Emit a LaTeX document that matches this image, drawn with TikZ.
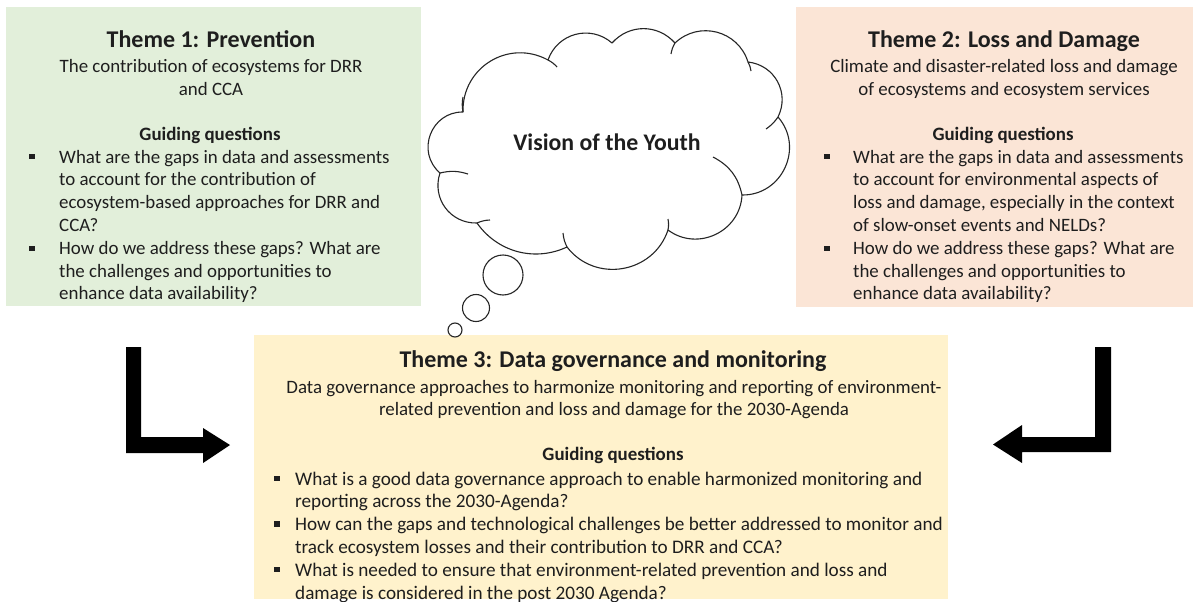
\documentclass[tikz,border=0pt]{standalone}
\usepackage{fontspec}
\setmainfont{Carlito}
\definecolor{boxgreen}{HTML}{E2EFDA}
\definecolor{boxpeach}{HTML}{FBE5D6}
\definecolor{boxyellow}{HTML}{FFF2CC}
\definecolor{inkdark}{HTML}{1E1E1E}
\begin{document}
\begin{tikzpicture}[x=1pt,y=-1pt,
  panel/.style={draw=none, rectangle, inner sep=0pt},
  titletext/.style={anchor=base, inner sep=0pt, text=inkdark, font=\fontsize{24}{28}\selectfont\bfseries},
  % multi-line texts are placed by the baseline of their last line
  subtext/.style={anchor=base, inner sep=0pt, text=inkdark, align=center, font=\fontsize{18.9}{22.8}\selectfont},
  headtext/.style={anchor=base, inner sep=0pt, text=inkdark, font=\fontsize{18.9}{22.8}\selectfont\bfseries},
  listtext/.style={anchor=base west, inner sep=0pt, text=inkdark, align=left, font=\fontsize{18.9}{22.8}\selectfont},
  bullet/.style={rectangle, fill=inkdark, inner sep=0pt, minimum size=5.4pt},
  cloudline/.style={draw=black!85, line width=1.1pt, line join=round},
  blockarrow/.style={fill=black}]
\useasboundingbox (0,0) rectangle (1197,602);
\fill[white] (0,0) rectangle (1197,602);

% theme panels
\node[panel, fill=boxgreen, minimum width=415pt, minimum height=299pt] (box1) at (213.5,156.5) {};
\node[panel, fill=boxpeach, minimum width=397pt, minimum height=300pt] (box2) at (994.5,157) {};
\node[panel, fill=boxyellow, minimum width=694pt, minimum height=264pt] (box3) at (601,467) {};

% Theme 1
\node[titletext] (t1) at (211,48) {Theme 1: Prevention};
\node[subtext] (s1) at (211,95.8) {The contribution of ecosystems for DRR\\and CCA};
\node[headtext] (g1) at (210,140) {Guiding questions};
\node[listtext] (q1) at (59,299.8) {What are the gaps in data and assessments\\to account for the contribution of\\ecosystem-based approaches for DRR and\\CCA?\\How do we address these gaps? What are\\the challenges and opportunities to\\enhance data availability?};
\node[bullet] (b11) at (32,156.5) {};
\node[bullet] (b12) at (32,248.5) {};

% Theme 2
\node[titletext] (t2) at (1004,48) {Theme 2: Loss and Damage};
\node[subtext] (s2) at (1004,95.8) {Climate and disaster-related loss and damage\\of ecosystems and ecosystem services};
\node[headtext] (g2) at (1003,140) {Guiding questions};
\node[listtext] (q2) at (853,299.8) {What are the gaps in data and assessments\\to account for environmental aspects of\\loss and damage, especially in the context\\of slow-onset events and NELDs?\\How do we address these gaps? What are\\the challenges and opportunities to\\enhance data availability?};
\node[bullet] (b21) at (827,156.5) {};
\node[bullet] (b22) at (827,248.5) {};

% Theme 3
\node[titletext] (t3) at (613,367) {Theme 3: Data governance and monitoring};
\node[subtext] (s3) at (614,415.8) {Data governance approaches to harmonize monitoring and reporting of environment-\\related prevention and loss and damage for the 2030-Agenda};
\node[headtext] (g3) at (613,460) {Guiding questions};
\node[listtext, font=\fontsize{19.2}{22.8}\selectfont] (q3) at (295,599) {What is a good data governance approach to enable harmonized monitoring and\\reporting across the 2030-Agenda?\\How can the gaps and technological challenges be better addressed to monitor and\\track ecosystem losses and their contribution to DRR and CCA?\\What is needed to ensure that environment-related prevention and loss and\\damage is considered in the post 2030 Agenda?};
\node[bullet] (b31) at (277,478.5) {};
\node[bullet] (b32) at (277,524) {};
\node[bullet] (b33) at (277,569.5) {};

% thought cloud
\draw[cloudline, fill=white]
  (463,112) to[bend left=60, looseness=1.15] (548,60)
  to[bend left=56, looseness=1.1] (612,43)
  to[bend left=48, looseness=1.05] (675,43)
  to[bend left=58, looseness=1.12] (748,62)
  to[bend left=55, looseness=1.1] (778,117)
  to[bend left=66, looseness=1.2] (742,195)
  to[bend left=62, looseness=1.15] (668,230)
  to[bend left=62, looseness=1.15] (567,247)
  to[bend left=40, looseness=0.98] (477,223)
  to[bend left=55, looseness=1.1] (440,173)
  to[bend left=70, looseness=1.26] (463,112) -- cycle;
% inner puff strokes
\draw[cloudline] (463,112) to[bend left=10] (463,97);
\draw[cloudline] (440,173) to[bend left=15] (468,174);
\draw[cloudline] (477,223) to[bend left=10] (490,220);
\draw[cloudline] (567,247) to[bend left=10] (563,233);
\draw[cloudline] (668,230) to[bend right=10] (668,219);
\draw[cloudline] (742,195) to[bend right=25] (713,157);
\draw[cloudline] (778,117) to[bend left=10] (766,129);
\draw[cloudline] (748,62) to[bend left=10] (751,71);
\draw[cloudline] (675,43) to[bend right=10] (671,54);
\draw[cloudline] (548,60) to[bend left=10] (557,67);
\node[inner sep=0pt, anchor=base, text=inkdark, font=\fontsize{23.8}{28}\selectfont\bfseries] (vision) at (607,150) {Vision of the Youth};
\draw[cloudline, fill=white] (503,275) circle[radius=20];
\draw[cloudline, fill=white] (476,308) circle[radius=13.5];
\draw[cloudline, fill=white] (455,330) circle[radius=7];

% block arrows turning towards theme 3
\fill[blockarrow] (126,347) -- (141,347) -- (141,437) -- (203,437) -- (203,428) -- (230,445) -- (203,463) -- (203,453) -- (126,453) -- cycle;
\fill[blockarrow] (1095,347) -- (1111,347) -- (1111,452) -- (1022,452) -- (1022,463) -- (993,444.5) -- (1022,425) -- (1022,437) -- (1095,437) -- cycle;
\end{tikzpicture}
\end{document}
